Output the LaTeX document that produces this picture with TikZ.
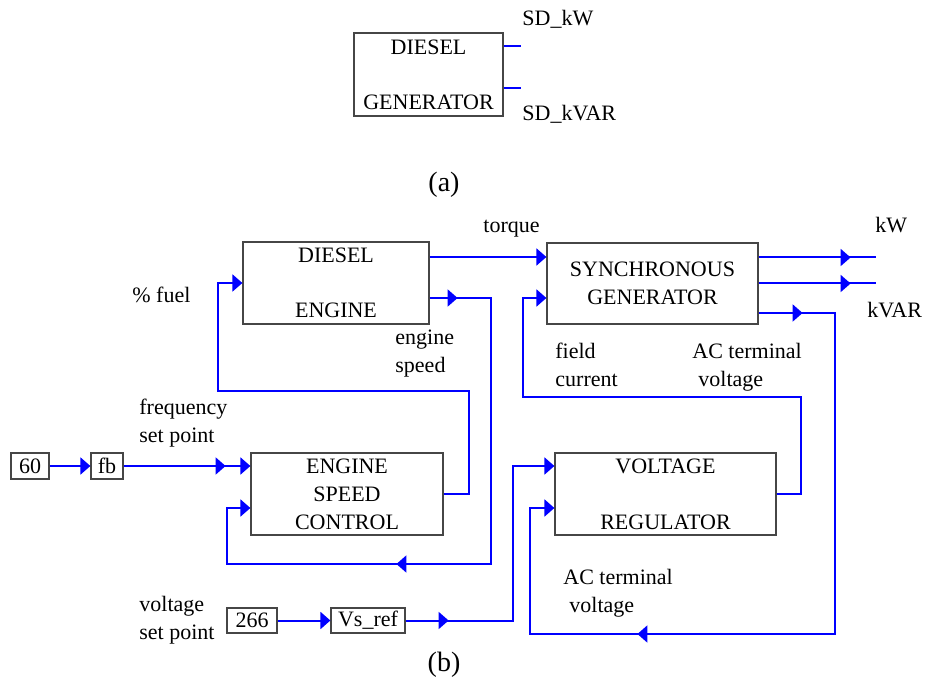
\documentclass[tikz,border=0pt]{standalone}
\usepackage{fontspec}
\setmainfont{Liberation Serif}
\usetikzlibrary{arrows.meta,positioning,calc,decorations.markings}
\definecolor{sigBlue}{RGB}{0,0,255}
\definecolor{boxGray}{RGB}{70,70,70}
\tikzset{
  blockbox/.style={draw=boxGray, line width=0.6pt, align=center, inner sep=0pt,
    font=\fontsize{11}{14}\selectfont},
  valbox/.style={draw=boxGray, line width=0.6pt, inner sep=0pt,
    font=\fontsize{11}{13}\selectfont},
  sigln/.style={sigBlue, line width=1pt},
  sigend/.style={sigln, -{Triangle[length=5pt,width=8.5pt]}},
  midtip/.style={postaction={decorate, decoration={markings,
    mark=at position #1 with {\arrow{Triangle[length=5pt,width=8.5pt]}}}}},
  sigtxt/.style={font=\fontsize{11}{14}\selectfont, inner sep=0pt,
    anchor=base west, align=left},
  captxt/.style={font=\fontsize{14}{16}\selectfont, inner sep=0pt},
}

\begin{document}
\begin{tikzpicture}[x=0.5pt, y=-0.5pt]
    \useasboundingbox (0,0) rectangle (925,683);
    % --- (a) diesel generator block ---
    \node[blockbox, minimum width=74.5pt, minimum height=41.5pt] (dgen) at (428.5,74.5)
      {DIESEL\\[13.5pt]GENERATOR};
    \draw[sigln] ([yshift=14.25pt]dgen.east) -- ++(8.5pt,0) coordinate (sdKwEnd);
    \draw[sigln] ([yshift=-6.75pt]dgen.east) -- ++(8.5pt,0) coordinate (sdKvarEnd);
    \node[sigtxt] (lblSDkw) at (522,26) {SD\_kW};
    \node[sigtxt] (lblSDkvar) at (522,121) {SD\_kVAR};
    \node[captxt] (capA) at (444,185) {(a)};

    % --- (b) blocks ---
    \node[blockbox, minimum width=93pt, minimum height=41pt] (engine) at (336,283)
      {DIESEL\\[13.5pt]ENGINE};
    \node[blockbox, minimum width=105.5pt, minimum height=40.5pt] (syngen) at (652.5,283.5)
      {SYNCHRONOUS\\GENERATOR};
    \node[blockbox, minimum width=96pt, minimum height=41pt] (esc) at (347,494)
      {ENGINE\\SPEED\\CONTROL};
    \node[blockbox, minimum width=110.5pt, minimum height=41pt] (vreg) at (665.5,494)
      {VOLTAGE\\[14pt]REGULATOR};
    \node[valbox, minimum width=19pt, minimum height=13pt] (v60) at (30,466) {60};
    \node[valbox, minimum width=16pt, minimum height=13pt] (fb) at (107,466) {fb};
    \node[valbox, minimum width=25pt, minimum height=12.5pt] (v266) at (252,620.5) {266};
    \node[valbox, minimum width=37pt, minimum height=12.5pt] (vsref) at (368,620.5) {Vs\_ref};

    % bend points of the loops
    \coordinate (spdR) at (491,564);
    \coordinate (spdL) at (227,508);
    \coordinate (fuelR) at (469,391);
    \coordinate (fuelL) at (218,283);
    \coordinate (vsetR) at (513,466);
    \coordinate (acR) at (835,634);
    \coordinate (acL) at (530,508);
    \coordinate (fldR) at (801,397);
    \coordinate (fldL) at (523,298);
    \path ([yshift=13pt]engine.east) coordinate (tqOut);

    % --- signals ---
    \draw[sigend] (tqOut) -- (tqOut -| syngen.west);
    \draw[sigend, midtip=14pt, midtip=211pt] ([yshift=-7.5pt]engine.east) -| (spdR) -| (spdL)
      -- (spdL -| esc.west);
    \draw[sigend] (esc.east) -| (fuelR) -| (fuelL) -- (engine.west);
    \draw[sigend] (v60) -- (fb);
    \draw[sigend, midtip=51pt] (fb) -- (fb -| esc.west);
    \draw[sigend] (v266) -- (vsref);
    \draw[sigend, midtip=21.5pt] (vsref) -| (vsetR) -- (vsetR -| vreg.west);
    \draw[sigln, midtip=46pt] ([yshift=13pt]syngen.east) -- ++(58.5pt,0) coordinate (kwEnd);
    \draw[sigln, midtip=46pt] (syngen.east) -- ++(58.5pt,0) coordinate (kvarEnd);
    \draw[sigend, midtip=22pt, midtip=297.5pt] ([yshift=-14.75pt]syngen.east) -| (acR) -| (acL)
      -- (acL -| vreg.west);
    \draw[sigend] (vreg.east) -| (fldR) -| (fldL) -- (fldL -| syngen.west);

    % --- labels (two-line ones sit on their last baseline) ---
    \node[sigtxt] (lblTorque) at (483,233) {torque};
    \node[sigtxt] (lblKw) at (875,233) {kW};
    \node[sigtxt] (lblKvar) at (867,318) {kVAR};
    \node[sigtxt] (lblFuel) at (132,303) {\% fuel};
    \node[sigtxt] (lblSpeed) at (395,373) {engine\\speed};
    \node[sigtxt] (lblField) at (555,387) {field\\current};
    \node[sigtxt] (lblAcUp) at (692,387) {AC terminal\\\hspace{3pt}voltage};
    \node[sigtxt] (lblFreq) at (139,443) {frequency\\set point};
    \node[sigtxt] (lblVset) at (139,639) {voltage\\set point};
    \node[sigtxt] (lblAcLow) at (563,612) {AC terminal\\\hspace{3pt}voltage};
    \node[captxt] (capB) at (444,665) {(b)};
  \end{tikzpicture}
\end{document}
